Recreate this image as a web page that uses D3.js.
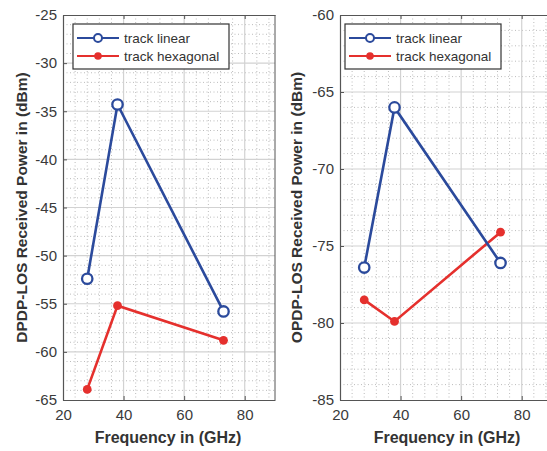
<!DOCTYPE html>
<html>
<head>
<meta charset="utf-8">
<script src="https://cdn.jsdelivr.net/npm/d3@7"></script>
<style>
    body { margin: 0; background: #fff; }
    svg { display: block; font-family: "Liberation Sans", Arial, sans-serif; }
    .tick text { fill: #3a3a3a; font-size: 15px; }
    .domain { stroke: #555; }
    .tick line { stroke: #555; }
</style>
</head>
<body>
<svg id="chart" width="547" height="451"></svg>
<script>

// data
var freqs = [28, 38, 73];
var dpdpLinear    = [-52.4, -34.3, -55.8];
var dpdpHexagonal = [-63.9, -55.2, -58.8];
var opdpLinear    = [-76.4, -66.0, -76.1];
var opdpHexagonal = [-78.5, -79.9, -74.1];

var xTicks = [20, 40, 60, 80];
var dpdpTicks = [-25, -30, -35, -40, -45, -50, -55, -60, -65];
var opdpTicks = [-60, -65, -70, -75, -80, -85];

var seriesNames = ["track linear", "track hexagonal"];
var blue = "#2b4a9c", red = "#e5302d";

var svg = d3.select("#chart");

var panels = [
    { left: 63,  right: 275, ylabel: "DPDP-LOS Received Power in (dBm)", yDomain: [-65, -25],
      ticks: dpdpTicks, lin: dpdpLinear, hex: dpdpHexagonal, labelX: 22,  legendX: 73 },
    { left: 340, right: 552, ylabel: "OPDP-LOS Received Power in (dBm)", yDomain: [-85, -60],
      ticks: opdpTicks, lin: opdpLinear, hex: opdpHexagonal, labelX: 297, legendX: 345 }
];

var plotTop = 15, plotBottom = 400;
var plain = function(d) { return String(d); }; // keep the hyphen minus

panels.forEach(function(p, pi) {
    var x = d3.scaleLinear().domain([20, 90]).range([p.left, p.right]);
    var y = d3.scaleLinear().domain(p.yDomain).range([plotBottom, plotTop]);

    var g = svg.append("g");

    g.append("rect")
        .attr("x", p.left).attr("y", plotTop)
        .attr("width", p.right - p.left).attr("height", plotBottom - plotTop)
        .attr("fill", "#fff");

    // minor grid, dotted
    g.selectAll(".minx").data(d3.range(24, 90, 4).filter(function(v) { return v % 20 !== 0; }))
        .enter().append("line")
        .attr("x1", function(d) { return x(d); }).attr("x2", function(d) { return x(d); })
        .attr("y1", plotTop).attr("y2", plotBottom)
        .attr("stroke", "#bcbcbc").attr("stroke-dasharray", "1,2.5");
    g.selectAll(".miny").data(d3.range(p.yDomain[0] + 1, p.yDomain[1], 1).filter(function(v) { return v % 5 !== 0; }))
        .enter().append("line")
        .attr("y1", function(d) { return y(d); }).attr("y2", function(d) { return y(d); })
        .attr("x1", p.left).attr("x2", p.right)
        .attr("stroke", "#bcbcbc").attr("stroke-dasharray", "1,2.5");

    // major grid
    g.selectAll(".majx").data(xTicks.slice(1))
        .enter().append("line")
        .attr("x1", function(d) { return x(d); }).attr("x2", function(d) { return x(d); })
        .attr("y1", plotTop).attr("y2", plotBottom)
        .attr("stroke", "#d2d2d2").attr("stroke-width", 1.2);
    g.selectAll(".majy").data(p.ticks.slice(1, -1))
        .enter().append("line")
        .attr("y1", function(d) { return y(d); }).attr("y2", function(d) { return y(d); })
        .attr("x1", p.left).attr("x2", p.right)
        .attr("stroke", "#d2d2d2").attr("stroke-width", 1.2);

    // axes
    g.append("g")
        .attr("transform", "translate(0," + plotBottom + ")")
        .call(d3.axisBottom(x).tickValues(xTicks).tickFormat(plain)
            .tickSizeInner(-4).tickSizeOuter(0).tickPadding(9));
    g.append("g")
        .attr("transform", "translate(0," + plotTop + ")")
        .call(d3.axisTop(x).tickValues(xTicks).tickSizeInner(-4).tickSizeOuter(0).tickFormat(""));
    g.append("g")
        .attr("transform", "translate(" + p.left + ",0)")
        .call(d3.axisLeft(y).tickValues(p.ticks).tickFormat(plain)
            .tickSizeInner(-4).tickSizeOuter(0).tickPadding(6));
    g.append("line")
        .attr("x1", p.right).attr("x2", p.right).attr("y1", plotTop).attr("y2", plotBottom)
        .attr("stroke", "#555");
    g.selectAll(".domain").attr("stroke-width", 1.2);

    // series
    var line = d3.line()
        .x(function(d, i) { return x(freqs[i]); })
        .y(function(d) { return y(d); });

    g.append("path").datum(p.hex)
        .attr("d", line).attr("fill", "none").attr("stroke", red).attr("stroke-width", 2.6);
    g.selectAll(".hexpt").data(p.hex).enter().append("circle")
        .attr("cx", function(d, i) { return x(freqs[i]); })
        .attr("cy", function(d) { return y(d); })
        .attr("r", 4.4).attr("fill", red);

    g.append("path").datum(p.lin)
        .attr("d", line).attr("fill", "none").attr("stroke", blue).attr("stroke-width", 2.6);
    g.selectAll(".linpt").data(p.lin).enter().append("circle")
        .attr("cx", function(d, i) { return x(freqs[i]); })
        .attr("cy", function(d) { return y(d); })
        .attr("r", 5.2).attr("fill", "#fff").attr("stroke", blue).attr("stroke-width", 2.3);

    // labels
    g.append("text")
        .attr("transform", "translate(" + p.labelX + "," + ((plotTop + plotBottom) / 2) + ") rotate(-90)")
        .attr("text-anchor", "middle").attr("dy", "0.35em")
        .attr("font-size", 15.5).attr("font-weight", "bold").attr("fill", "#333")
        .text(p.ylabel);
    g.append("text")
        .attr("x", pi === 0 ? 168 : 447).attr("y", 443)
        .attr("text-anchor", "middle")
        .attr("font-size", 16).attr("font-weight", "bold").attr("fill", "#333")
        .text("Frequency in (GHz)");

    // legend
    var lg = g.append("g").attr("transform", "translate(" + p.legendX + ",24)");
    lg.append("rect").attr("width", 156).attr("height", 45)
        .attr("fill", "#fff").attr("stroke", "#333").attr("stroke-width", 1.2);
    seriesNames.forEach(function(name, i) {
        var cy = 14 + i * 18;
        var col = i === 0 ? blue : red;
        lg.append("line").attr("x1", 4).attr("x2", 46).attr("y1", cy).attr("y2", cy)
            .attr("stroke", col).attr("stroke-width", 2.2);
        if (i === 0) {
            lg.append("circle").attr("cx", 25).attr("cy", cy).attr("r", 4)
                .attr("fill", "#fff").attr("stroke", col).attr("stroke-width", 2);
        } else {
            lg.append("circle").attr("cx", 25).attr("cy", cy).attr("r", 3.8).attr("fill", col);
        }
        lg.append("text").attr("x", 51).attr("y", cy).attr("dy", "0.35em")
            .attr("font-size", 13.5).attr("fill", "#333")
            .text(name);
    });
});

</script>
</body>
</html>
